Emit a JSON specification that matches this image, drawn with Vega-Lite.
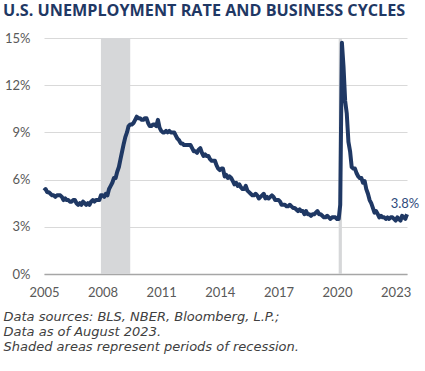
{
  "$schema": "https://vega.github.io/schema/vega-lite/v6.json",
  "width": 363,
  "height": 236,
  "autosize": {"type": "none"},
  "padding": {"left": 44, "top": 38, "right": 18, "bottom": 97},
  "background": "white",
  "title": {
    "text": "U.S. UNEMPLOYMENT RATE AND BUSINESS CYCLES",
    "anchor": "start",
    "frame": "group",
    "dx": -41,
    "offset": 13,
    "font": "Open Sans",
    "fontSize": 16.2,
    "fontWeight": "bold",
    "color": "#1F3864"
  },
  "config": {
    "view": {"stroke": null},
    "font": "Lato"
  },
  "datasets": {
    "rec": [
      {"start": "2007-12-01", "end": "2009-06-01"},
      {"start": "2020-02-01", "end": "2020-04-01"}
    ],
    "last": [{"date": "2023-08-01", "rate": 3.8, "label": "3.8%"}],
    "u": [
{"date":"2005-01-01","rate":5.3},{"date":"2005-02-01","rate":5.4},{"date":"2005-03-01","rate":5.2},{"date":"2005-04-01","rate":5.2},{"date":"2005-05-01","rate":5.1},{"date":"2005-06-01","rate":5.0},{"date":"2005-07-01","rate":5.0},{"date":"2005-08-01","rate":4.9},{"date":"2005-09-01","rate":5.0},{"date":"2005-10-01","rate":5.0},{"date":"2005-11-01","rate":5.0},{"date":"2005-12-01","rate":4.9},
{"date":"2006-01-01","rate":4.7},{"date":"2006-02-01","rate":4.8},{"date":"2006-03-01","rate":4.7},{"date":"2006-04-01","rate":4.7},{"date":"2006-05-01","rate":4.6},{"date":"2006-06-01","rate":4.6},{"date":"2006-07-01","rate":4.7},{"date":"2006-08-01","rate":4.7},{"date":"2006-09-01","rate":4.5},{"date":"2006-10-01","rate":4.4},{"date":"2006-11-01","rate":4.5},{"date":"2006-12-01","rate":4.4},
{"date":"2007-01-01","rate":4.6},{"date":"2007-02-01","rate":4.5},{"date":"2007-03-01","rate":4.4},{"date":"2007-04-01","rate":4.5},{"date":"2007-05-01","rate":4.4},{"date":"2007-06-01","rate":4.6},{"date":"2007-07-01","rate":4.7},{"date":"2007-08-01","rate":4.6},{"date":"2007-09-01","rate":4.7},{"date":"2007-10-01","rate":4.7},{"date":"2007-11-01","rate":4.7},{"date":"2007-12-01","rate":5.0},
{"date":"2008-01-01","rate":5.0},{"date":"2008-02-01","rate":4.9},{"date":"2008-03-01","rate":5.1},{"date":"2008-04-01","rate":5.0},{"date":"2008-05-01","rate":5.4},{"date":"2008-06-01","rate":5.6},{"date":"2008-07-01","rate":5.8},{"date":"2008-08-01","rate":6.1},{"date":"2008-09-01","rate":6.1},{"date":"2008-10-01","rate":6.5},{"date":"2008-11-01","rate":6.8},{"date":"2008-12-01","rate":7.3},
{"date":"2009-01-01","rate":7.8},{"date":"2009-02-01","rate":8.3},{"date":"2009-03-01","rate":8.7},{"date":"2009-04-01","rate":9.0},{"date":"2009-05-01","rate":9.4},{"date":"2009-06-01","rate":9.5},{"date":"2009-07-01","rate":9.5},{"date":"2009-08-01","rate":9.6},{"date":"2009-09-01","rate":9.8},{"date":"2009-10-01","rate":10.0},{"date":"2009-11-01","rate":9.9},{"date":"2009-12-01","rate":9.9},
{"date":"2010-01-01","rate":9.8},{"date":"2010-02-01","rate":9.8},{"date":"2010-03-01","rate":9.9},{"date":"2010-04-01","rate":9.9},{"date":"2010-05-01","rate":9.6},{"date":"2010-06-01","rate":9.4},{"date":"2010-07-01","rate":9.4},{"date":"2010-08-01","rate":9.5},{"date":"2010-09-01","rate":9.5},{"date":"2010-10-01","rate":9.4},{"date":"2010-11-01","rate":9.8},{"date":"2010-12-01","rate":9.3},
{"date":"2011-01-01","rate":9.1},{"date":"2011-02-01","rate":9.0},{"date":"2011-03-01","rate":9.0},{"date":"2011-04-01","rate":9.1},{"date":"2011-05-01","rate":9.0},{"date":"2011-06-01","rate":9.1},{"date":"2011-07-01","rate":9.0},{"date":"2011-08-01","rate":9.0},{"date":"2011-09-01","rate":9.0},{"date":"2011-10-01","rate":8.8},{"date":"2011-11-01","rate":8.6},{"date":"2011-12-01","rate":8.5},
{"date":"2012-01-01","rate":8.3},{"date":"2012-02-01","rate":8.3},{"date":"2012-03-01","rate":8.2},{"date":"2012-04-01","rate":8.2},{"date":"2012-05-01","rate":8.2},{"date":"2012-06-01","rate":8.2},{"date":"2012-07-01","rate":8.2},{"date":"2012-08-01","rate":8.0},{"date":"2012-09-01","rate":7.8},{"date":"2012-10-01","rate":7.8},{"date":"2012-11-01","rate":7.7},{"date":"2012-12-01","rate":7.9},
{"date":"2013-01-01","rate":8.0},{"date":"2013-02-01","rate":7.7},{"date":"2013-03-01","rate":7.5},{"date":"2013-04-01","rate":7.6},{"date":"2013-05-01","rate":7.5},{"date":"2013-06-01","rate":7.5},{"date":"2013-07-01","rate":7.3},{"date":"2013-08-01","rate":7.2},{"date":"2013-09-01","rate":7.2},{"date":"2013-10-01","rate":7.2},{"date":"2013-11-01","rate":6.9},{"date":"2013-12-01","rate":6.7},
{"date":"2014-01-01","rate":6.6},{"date":"2014-02-01","rate":6.7},{"date":"2014-03-01","rate":6.7},{"date":"2014-04-01","rate":6.2},{"date":"2014-05-01","rate":6.3},{"date":"2014-06-01","rate":6.1},{"date":"2014-07-01","rate":6.2},{"date":"2014-08-01","rate":6.1},{"date":"2014-09-01","rate":5.9},{"date":"2014-10-01","rate":5.7},{"date":"2014-11-01","rate":5.8},{"date":"2014-12-01","rate":5.6},
{"date":"2015-01-01","rate":5.7},{"date":"2015-02-01","rate":5.5},{"date":"2015-03-01","rate":5.4},{"date":"2015-04-01","rate":5.4},{"date":"2015-05-01","rate":5.6},{"date":"2015-06-01","rate":5.3},{"date":"2015-07-01","rate":5.2},{"date":"2015-08-01","rate":5.1},{"date":"2015-09-01","rate":5.0},{"date":"2015-10-01","rate":5.0},{"date":"2015-11-01","rate":5.1},{"date":"2015-12-01","rate":5.0},
{"date":"2016-01-01","rate":4.8},{"date":"2016-02-01","rate":4.9},{"date":"2016-03-01","rate":5.0},{"date":"2016-04-01","rate":5.1},{"date":"2016-05-01","rate":4.8},{"date":"2016-06-01","rate":4.9},{"date":"2016-07-01","rate":4.8},{"date":"2016-08-01","rate":4.9},{"date":"2016-09-01","rate":5.0},{"date":"2016-10-01","rate":4.9},{"date":"2016-11-01","rate":4.7},{"date":"2016-12-01","rate":4.7},
{"date":"2017-01-01","rate":4.7},{"date":"2017-02-01","rate":4.6},{"date":"2017-03-01","rate":4.4},{"date":"2017-04-01","rate":4.4},{"date":"2017-05-01","rate":4.4},{"date":"2017-06-01","rate":4.3},{"date":"2017-07-01","rate":4.3},{"date":"2017-08-01","rate":4.4},{"date":"2017-09-01","rate":4.3},{"date":"2017-10-01","rate":4.2},{"date":"2017-11-01","rate":4.2},{"date":"2017-12-01","rate":4.1},
{"date":"2018-01-01","rate":4.0},{"date":"2018-02-01","rate":4.1},{"date":"2018-03-01","rate":4.0},{"date":"2018-04-01","rate":4.0},{"date":"2018-05-01","rate":3.8},{"date":"2018-06-01","rate":4.0},{"date":"2018-07-01","rate":3.8},{"date":"2018-08-01","rate":3.8},{"date":"2018-09-01","rate":3.7},{"date":"2018-10-01","rate":3.8},{"date":"2018-11-01","rate":3.8},{"date":"2018-12-01","rate":3.9},
{"date":"2019-01-01","rate":4.0},{"date":"2019-02-01","rate":3.8},{"date":"2019-03-01","rate":3.8},{"date":"2019-04-01","rate":3.7},{"date":"2019-05-01","rate":3.6},{"date":"2019-06-01","rate":3.6},{"date":"2019-07-01","rate":3.7},{"date":"2019-08-01","rate":3.6},{"date":"2019-09-01","rate":3.5},{"date":"2019-10-01","rate":3.6},{"date":"2019-11-01","rate":3.6},{"date":"2019-12-01","rate":3.6},
{"date":"2020-01-01","rate":3.5},{"date":"2020-02-01","rate":3.5},{"date":"2020-03-01","rate":4.4},{"date":"2020-04-01","rate":14.7},{"date":"2020-05-01","rate":13.2},{"date":"2020-06-01","rate":11.0},{"date":"2020-07-01","rate":10.2},{"date":"2020-08-01","rate":8.4},{"date":"2020-09-01","rate":7.8},{"date":"2020-10-01","rate":6.8},{"date":"2020-11-01","rate":6.7},{"date":"2020-12-01","rate":6.7},
{"date":"2021-01-01","rate":6.4},{"date":"2021-02-01","rate":6.2},{"date":"2021-03-01","rate":6.1},{"date":"2021-04-01","rate":6.1},{"date":"2021-05-01","rate":5.8},{"date":"2021-06-01","rate":5.9},{"date":"2021-07-01","rate":5.4},{"date":"2021-08-01","rate":5.1},{"date":"2021-09-01","rate":4.7},{"date":"2021-10-01","rate":4.5},{"date":"2021-11-01","rate":4.2},{"date":"2021-12-01","rate":3.9},
{"date":"2022-01-01","rate":4.0},{"date":"2022-02-01","rate":3.8},{"date":"2022-03-01","rate":3.6},{"date":"2022-04-01","rate":3.7},{"date":"2022-05-01","rate":3.6},{"date":"2022-06-01","rate":3.6},{"date":"2022-07-01","rate":3.5},{"date":"2022-08-01","rate":3.6},{"date":"2022-09-01","rate":3.5},{"date":"2022-10-01","rate":3.6},{"date":"2022-11-01","rate":3.6},{"date":"2022-12-01","rate":3.5},
{"date":"2023-01-01","rate":3.4},{"date":"2023-02-01","rate":3.6},{"date":"2023-03-01","rate":3.5},{"date":"2023-04-01","rate":3.4},{"date":"2023-05-01","rate":3.7},{"date":"2023-06-01","rate":3.6},{"date":"2023-07-01","rate":3.5},{"date":"2023-08-01","rate":3.8}
    ]
  },
  "layer": [
    {
      "data": {"name": "rec"},
      "mark": {"type": "rect", "color": "#D6D7D9"},
      "encoding": {
        "x": {
          "field": "start",
          "type": "temporal",
          "scale": {
            "type": "utc",
            "domain": [
              {"year": 2005, "month": 1, "date": 1, "utc": true},
              {"year": 2023, "month": 8, "date": 1, "utc": true}
            ]
          },
          "axis": {
            "values": [
              {"year": 2005, "month": 1, "date": 1, "utc": true},
              {"year": 2008, "month": 1, "date": 1, "utc": true},
              {"year": 2011, "month": 1, "date": 1, "utc": true},
              {"year": 2014, "month": 1, "date": 1, "utc": true},
              {"year": 2017, "month": 1, "date": 1, "utc": true},
              {"year": 2020, "month": 1, "date": 1, "utc": true},
              {"year": 2023, "month": 1, "date": 1, "utc": true}
            ],
            "format": "%Y",
            "formatType": "utc",
            "grid": false,
            "ticks": false,
            "domainColor": "#A6A6A6",
            "domainWidth": 1.5,
            "labelFont": "Lato",
            "labelFontSize": 13,
            "labelColor": "#595959",
            "labelPadding": 12,
            "labelFlush": false,
            "title": [
              "Data sources: BLS, NBER, Bloomberg, L.P.;",
              "Data as of August 2023.",
              "Shaded areas represent periods of recession."
            ],
            "titleFont": "DejaVu Sans",
            "titleFontStyle": "italic",
            "titleFontWeight": "normal",
            "titleFontSize": 13,
            "titleColor": "#404040",
            "titleLineHeight": 15.2,
            "titleAnchor": "start",
            "titleAlign": "left",
            "titleBaseline": "top",
            "titleX": -41,
            "titleY": 36
          }
        },
        "x2": {"field": "end"}
      }
    },
    {
      "data": {"name": "u"},
      "mark": {"type": "line", "color": "#1F3864", "strokeWidth": 4, "strokeJoin": "round"},
      "encoding": {
        "x": {"field": "date", "type": "temporal"},
        "y": {
          "field": "rate",
          "type": "quantitative",
          "scale": {"domain": [0, 15], "nice": false},
          "axis": {
            "values": [0, 3, 6, 9, 12, 15],
            "labelExpr": "datum.value + '%'",
            "domain": false,
            "ticks": false,
            "gridColor": "#D9D9D9",
            "gridWidth": 1,
            "labelFont": "Lato",
            "labelFontSize": 13,
            "labelColor": "#595959",
            "labelPadding": 14,
            "title": null
          }
        }
      }
    },
    {
      "data": {"name": "last"},
      "mark": {"type": "text", "color": "#2F4B7C", "font": "Lato", "fontSize": 13, "dy": -10, "dx": -2, "align": "center"},
      "encoding": {
        "x": {"field": "date", "type": "temporal"},
        "y": {"field": "rate", "type": "quantitative"},
        "text": {"field": "label"}
      }
    }
  ]
}
